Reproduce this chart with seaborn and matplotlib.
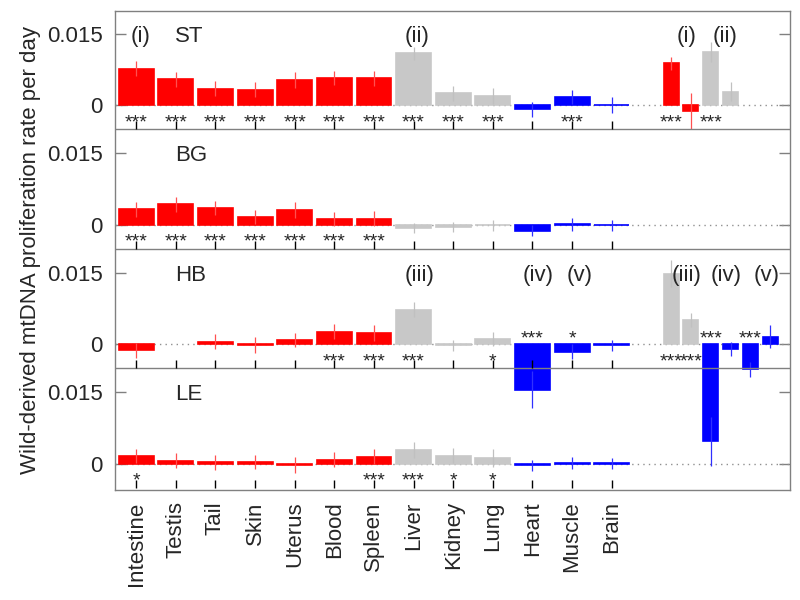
import numpy as np
import pandas as pd
import matplotlib
matplotlib.use('Agg')
import matplotlib.pyplot as plt
import seaborn as sns

sns.set_style('ticks')
plt.rcParams['font.family'] = ['Liberation Sans', 'DejaVu Sans']

tissues = ['Intestine', 'Testis', 'Tail', 'Skin', 'Uterus', 'Blood', 'Spleen',
           'Liver', 'Kidney', 'Lung', 'Heart', 'Muscle', 'Brain']
tissue_grp = ['red'] * 7 + ['gray'] * 3 + ['blue'] * 3
panels = ['ST', 'BG', 'HB', 'LE']

st_val = [0.0077, 0.0055, 0.0035, 0.0033, 0.0054, 0.0058, 0.0057, 0.0109, 0.0025, 0.0020, -0.0008, 0.0018, 0.0001]
st_err = [0.0015, 0.0016, 0.0016, 0.0016, 0.0017, 0.0015, 0.0016, 0.0014, 0.0016, 0.0017, 0.0016, 0.0015, 0.0016]
st_sig = ['***'] * 10 + ['', '***', '']

bg_val = [0.0033, 0.0043, 0.0036, 0.0016, 0.0031, 0.0012, 0.0013, -0.0006, -0.0004, -0.0001, -0.0012, 0.0001, -0.0001]
bg_err = [0.0016, 0.0016, 0.0015, 0.0015, 0.0016, 0.0015, 0.0016, 0.0010, 0.0010, 0.0012, 0.0012, 0.0014, 0.0012]
bg_sig = ['***'] * 7 + [''] * 6

hb_val = [-0.0012, 0.0, 0.0006, -0.0001, 0.0009, 0.0027, 0.0024, 0.0073, -0.0002, 0.0011, -0.0095, -0.0015, -0.0002]
hb_err = [0.0016, 0.0, 0.0016, 0.0016, 0.0015, 0.0015, 0.0016, 0.0015, 0.0012, 0.0015, 0.0039, 0.0016, 0.0012]
hb_sig = ['', '', '', '', '', '***', '***', '***', '', '*', '***', '*', '']

le_val = [0.0017, 0.0007, 0.0003, 0.0004, -0.0002, 0.0009, 0.0015, 0.0029, 0.0017, 0.0013, -0.0003, 0.0002, 0.0001]
le_err = [0.0015, 0.0016, 0.0016, 0.0014, 0.0016, 0.0015, 0.0016, 0.0016, 0.0016, 0.0019, 0.0012, 0.0012, 0.0012]
le_sig = ['*', '', '', '', '', '', '***', '***', '*', '*', '', '', '']

# extra comparison bars on the right
st_extra_x = [14.5, 15.0, 15.5, 16.0]
st_extra_val = [0.0088, -0.0012, 0.0111, 0.0029]
st_extra_err = [0.0014, 0.0038, 0.0021, 0.0019]
st_extra_grp = ['red', 'red', 'gray', 'gray']
st_extra_sig = ['***', '', '***', '']

hb_extra_x = [14.5, 15.0, 15.5, 16.0, 16.5, 17.0]
hb_extra_val = [0.0148, 0.0051, -0.0203, -0.0009, -0.0052, 0.0016]
hb_extra_err = [0.0028, 0.0014, 0.0052, 0.0015, 0.0016, 0.0024]
hb_extra_grp = ['gray', 'gray', 'blue', 'blue', 'blue', 'blue']
hb_extra_sig = ['***', '***', '***', '', '***', '']

st_notes = [('(i)', 1.1), ('(ii)', 8.1), ('(i)', 14.9), ('(ii)', 15.85)]
hb_notes = [('(iii)', 8.15), ('(iv)', 11.15), ('(v)', 12.2),
            ('(iii)', 14.9), ('(iv)', 15.9), ('(v)', 16.9)]

palette = {'red': '#ff0000', 'gray': '#c8c8c8', 'blue': '#0000ff'}
err_col = {'red': '#ff5050', 'gray': '#c0c0c0', 'blue': '#3030ff'}
step = 0.025
offsets = [0, -step, -2 * step, -3 * step]
xpos = list(range(1, 14))

fig = plt.figure(figsize=(8, 6), dpi=100)
ax = fig.add_axes([0.144, 0.183, 0.8435, 0.799])


def draw(x, val, err, grp, sig, off):
	df = pd.DataFrame({'x': x, 'v': val, 'grp': grp})
	sns.barplot(data=df, x='x', y='v', hue='grp', palette=palette, native_scale=True,
				dodge=False, errorbar=None, saturation=1, legend=False,
				width=0.88 if len(x) == 13 else 0.76, bottom=off, linewidth=0,
				zorder=2, ax=ax)
	for g in set(grp):
		idx = [i for i in range(len(x)) if grp[i] == g]
		ax.errorbar([x[i] for i in idx], [val[i] + off for i in idx],
					yerr=[err[i] for i in idx], fmt='none', ecolor=err_col[g],
					elinewidth=0.9, capsize=0, zorder=3)
	for xi, v, s in zip(x, val, sig):
		if not s:
			continue
		y = off - 0.0046 if v >= 0 else off + 0.0001
		ax.text(xi, y, s, ha='center', va='baseline', fontsize=14, zorder=4)


main = [(st_val, st_err, st_sig), (bg_val, bg_err, bg_sig),
		(hb_val, hb_err, hb_sig), (le_val, le_err, le_sig)]
for (val, err, sig), off in zip(main, offsets):
	ax.axhline(off, ls=(0, (1, 3)), color='#909090', lw=1, zorder=1)
	draw(xpos, val, err, tissue_grp, sig, off)

draw(st_extra_x, st_extra_val, st_extra_err, st_extra_grp, st_extra_sig, offsets[0])
draw(hb_extra_x, hb_extra_val, hb_extra_err, hb_extra_grp, hb_extra_sig, offsets[2])

# thin outline so near-zero bars still show as a line
for p in ax.patches:
	if p.get_height() != 0:
		p.set_edgecolor(p.get_facecolor())
		p.set_linewidth(1.2)

# panel names and roman notes
for name, off in zip(panels, offsets):
	ax.text(1.98, off + 0.015 - 0.0017, name, ha='left', va='baseline', fontsize=16)
for txt, xi in st_notes:
	ax.text(xi, offsets[0] + 0.015 - 0.0017, txt, ha='center', va='baseline', fontsize=16)
for txt, xi in hb_notes:
	ax.text(xi, offsets[2] + 0.015 - 0.0017, txt, ha='center', va='baseline', fontsize=16)

# separators between panels with small up ticks
for off in offsets:
	sep = off - 0.005
	if off != offsets[-1]:
		ax.axhline(sep, color='#808080', lw=1, zorder=5)
	ax.vlines(xpos, sep, sep + 0.0017, color='k', lw=1, zorder=5)

yt = []
for off in offsets:
	yt += [off, off + 0.015]
ax.set_yticks(yt)
ax.set_yticklabels(['0', '0.015'] * 4)
ax.set_xticks(xpos)
ax.set_xticklabels(tissues, rotation=90)
ax.tick_params(axis='y', direction='in', length=8, width=1, color='#808080',
			   right=True, labelsize=16, pad=9)
ax.tick_params(axis='x', length=0, labelsize=16, pad=8)
ax.set_xlim(0.47, 17.5)
ax.set_ylim(-0.0805, 0.0198)
ax.set_xlabel('')
ax.set_ylabel('Wild-derived mtDNA proliferation rate per day', fontsize=16)
for s in ax.spines.values():
	s.set_color('#808080')
	s.set_linewidth(1)

plt.savefig('out.png', dpi=100)
